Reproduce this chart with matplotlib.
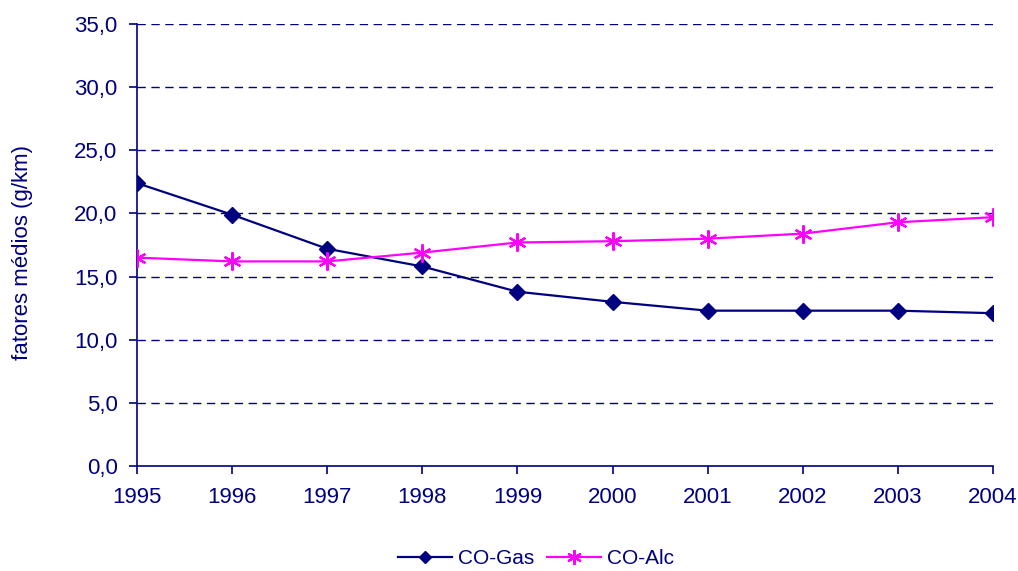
import matplotlib
matplotlib.use("Agg")
import matplotlib.pyplot as plt

plt.rcParams['font.family'] = ['Liberation Sans', 'DejaVu Sans']

years = ['1995', '1996', '1997', '1998', '1999', '2000', '2001', '2002', '2003', '2004']
co_gas = [22.4, 19.9, 17.2, 15.8, 13.8, 13.0, 12.3, 12.3, 12.3, 12.1]
co_alc = [16.5, 16.2, 16.2, 16.9, 17.7, 17.8, 18.0, 18.4, 19.3, 19.7]

navy = '#000080'
magenta = '#FF00FF'

fig = plt.figure(figsize=(10.18, 5.71), dpi=100)
ax = fig.add_axes([137/1018, 105/571, 856/1018, 442/571])

x = list(range(len(years)))
ax.plot(x, co_gas, color=navy, lw=1.6, marker='D', ms=8, label='CO-Gas', zorder=3)
ax.plot(x, co_alc, color=magenta, lw=1.6, marker=(6, 2, 0), ms=13, mew=1.6,
        label='CO-Alc', zorder=3)

ax.set_xlim(0, len(years) - 1)
ax.set_ylim(0, 35)
ax.set_xticks(x)
ax.set_xticklabels(years)
yt = [0, 5, 10, 15, 20, 25, 30, 35]
ax.set_yticks(yt)
ax.set_yticklabels([f'{v:.1f}'.replace('.', ',') for v in yt])

for v in yt[1:]:
    ax.axhline(v, color=navy, lw=1, ls=(0, (6, 4)), zorder=1)

for s in ['top', 'right']:
    ax.spines[s].set_visible(False)
for s in ['left', 'bottom']:
    ax.spines[s].set_color(navy)
    ax.spines[s].set_linewidth(1.2)
ax.tick_params(colors=navy, labelsize=16, length=6, width=1.2)
ax.tick_params(axis='x', pad=9)
ax.tick_params(axis='y', pad=8)
ax.set_ylabel('fatores médios (g/km)', color=navy, fontsize=16)
ax.yaxis.set_label_coords(-0.1215, 0.482)

fig.legend(loc='center', bbox_to_anchor=(536/1018, 1 - 559/571), ncol=2,
           frameon=False, fontsize=15, labelcolor=navy, handlelength=2.6,
           columnspacing=0.6, handletextpad=0.3, markerscale=0.8,
           borderpad=0.1)

fig.savefig('out.png', dpi=100)
